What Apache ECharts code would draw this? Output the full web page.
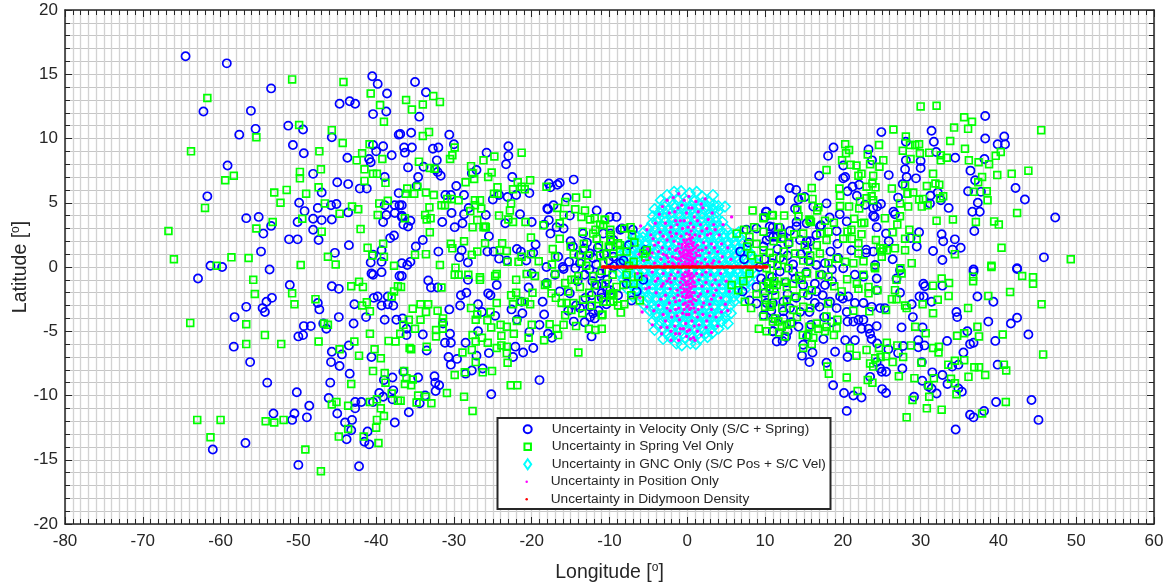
<!DOCTYPE html>
<html><head><meta charset="utf-8">
<style>html,body{margin:0;padding:0;background:#fff}#c{width:1173px;height:587px}</style>
<script src="https://cdn.jsdelivr.net/npm/echarts@6/dist/echarts.min.js"></script>
</head><body><div id="c"></div>
<script>
const legendNames=["Uncertainty in Velocity Only (S/C + Spring)","Uncertainty in Spring Vel Only","Uncertainty in GNC Only (S/C Pos + S/C Vel)","Uncertainty in Position Only","Uncertainty in Didymoon Density"];
const xLimits=[-80,60], yLimits=[-20,20];
const velocityOnly=[[-64.5,16.4],[-59.2,15.85],[-53.5,13.9],[-62.2,12.1],[-56.1,12.15],[-57.6,10.3],[-55.5,10.75],[-51.3,11],[-49.4,10.7],[-50.7,9.5],[-49.3,8.85],[-59.1,7.9],[-61.7,5.5],[-45.7,10.1],[-44.7,12.7],[-43.4,12.9],[-42.7,12.7],[-40.5,14.85],[-39.8,14.25],[-38.6,13.5],[-40.4,11.9],[-38.7,12.1],[-37.1,10.3],[-40.4,9.5],[-39.1,9.4],[-40,9],[-38,8.7],[-43.7,8.5],[-40.9,8.4],[-40.7,8.15],[-48.1,7.25],[-38.9,7],[-45,6.6],[-43.6,6.45],[-42.1,6.1],[-41.2,6.1],[-47,5.8],[-49.9,5],[-47.5,4.6],[-45.8,4.8],[-45.1,4.9],[-43.6,4.25],[-49.2,4.35],[-56.7,3.8],[-55.1,3.9],[-50.1,3.5],[-53.5,3.2],[-54.5,2.6],[-48.1,3.75],[-47,3.65],[-45.7,3.7],[-48.1,2.9],[-51.2,2.15],[-50.1,2.15],[-47.4,2.1],[-43.5,1.7],[-54.8,1.2],[-45.3,1.1],[-61.3,0.1],[-59.8,0],[-53.7,-0.2],[-38.9,4.8],[-38.7,4.05],[-37.6,4.8],[-37,4.8],[-37.6,4.2],[-36.7,3.9],[-39.1,3.5],[-38.2,2.25],[-37.7,2.45],[-39.3,1.3],[-40.4,0.95],[-40.7,0.35],[-39.3,0.4],[-37.1,5.75],
[-62.9,-0.9],[-51.1,-1.4],[-45.7,-1.5],[-44.8,-1.7],[-53.4,-2.4],[-54.1,-2.7],[-54.6,-3.2],[-54.3,-3.5],[-56.7,-3.1],[-58.2,-3.9],[-47.5,-2.8],[-47.3,-3.3],[-42.8,-2.9],[-44.8,-3.9],[-41.3,-3.9],[-38.9,-4.1],[-37.4,-4.1],[-42.9,-4.4],[-49.3,-4.6],[-48.4,-4.6],[-46.8,-4.4],[-46.4,-4.8],[-50,-5.4],[-49.4,-5.3],[-58.3,-6.2],[-56.2,-7.4],[-54,-9],[-43.5,-6.1],[-45.7,-6.6],[-44.4,-6.8],[-40.6,-7],[-45.8,-7.4],[-44.7,-7.7],[-43.4,-8.3],[-45.9,-9],[-50.2,-9.75],[-37.9,-8.6],[-39,-8.8],[-37.8,-9.6],[-39.6,-9.8],[-39.1,-10.1],[-40.4,-10.5],[-41.9,-10.5],[-42.7,-10.5],[-42.7,-11],[-46.1,-10.2],[-48.6,-10.8],[-50.5,-11.4],[-53.2,-11.4],[-50.8,-11.9],[-48.9,-11.7],[-45,-11.4],[-44,-12.1],[-43.1,-11.9],[-43.2,-12.7],[-43.8,-13.4],[-41.1,-12.8],[-41.5,-13.6],[-40.9,-13.8],[-37.6,-12.1],[-37.9,-10.3],[-56.8,-13.7],[-61,-14.2],[-50,-15.4],[-42.2,-15.5],[-40.3,-2.4],[-39.8,-2.3],[-38.5,-2.3],[-39.3,-3],[-38.5,-2.9],[-37.8,-3],[-40.6,-0.5],[-39.3,-0.4],[-40.4,-0.6],[-37,-0.7],
[-35.5,10.45],[-30.6,10.3],[-36.4,9.3],[-35.4,9.3],[-36.3,8.9],[-32.7,9.2],[-32,9.3],[-30,9.55],[-32.2,8.3],[-35.9,7.75],[-33.9,7.8],[-32.4,7.6],[-32.1,7.4],[-31.7,7.1],[-34.6,7],[-34.8,6.3],[-29.7,6.3],[-31.1,5.6],[-30.4,5.6],[-28.7,5.6],[-36.7,4.8],[-30.3,4.2],[-31.5,3.5],[-28.7,4.1],[-28.1,4.6],[-29.9,3.1],[-28.9,3.4],[-25.9,4.05],[-27.1,7.55],[-27.7,7.3],[-25.8,8.9],[-23,9.4],[-23,8.65],[-23.3,8],[-22.5,7],[-24.2,5.6],[-25,5.25],[-23.1,5.45],[-22,5.6],[-20.3,5.75],[-21.5,4.1],[-23.4,3.4],[-20,3.5],[-17.8,6.5],[-17.6,6.2],[-16.4,6.55],[-16.7,6.4],[-14.6,6.8],[-15.5,5.4],[-17.2,4.8],[-18,4.55],[-17.9,4.5],[-11.65,4.4],[-17.8,3.65],[-18.4,3.3],[-16.8,3.1],[-15.1,4],[-17.6,2.6],[-15.9,3],[-13.4,2.6],[-15,2],[-14.7,1.6],[-25.5,2.4],[-19.5,1.75],[-21.9,1.4],[-34.9,1.6],[-34,2.1],[-32,1.2],[-29,1.3],[-29.3,0.75],[-28.2,0.35],[-25.7,1.2],[-24.9,1.2],[-24.2,0.65],[-23.2,0.5],[-21.4,1.2],[-20.7,0.5],[-19.8,1.1],[-16.6,0.8],[-16,0],[-18.1,0],[-35.6,0.4],[-36,0.15],[-36.7,0.3],[-36.5,3.3],[-35.6,3.6],[-35.9,3.15],[-36.7,4],[-12.5,1.05],[-13.2,1.45],[-10,3.9],[-9.1,3.9],[-8.6,2.9],[-10.8,2.6],[-12.1,0.7],[-13.8,0.3],[-9.5,2.1],[-9.5,0.8],[-35,14.4],[-33.6,13.6],[-34.45,11.7],[-36.9,10.35],
[-33.3,-1.05],[-32.95,-1.6],[-32.1,-1.6],[-36.7,-0.7],[-28.2,-1],[-24.5,-1.4],[-28.4,-2],[-29.1,-2.2],[-25.6,-2.05],[-25.3,-2.2],[-29.2,-3],[-30.6,-3.3],[-26.9,-2.9],[-26.4,-3.5],[-24.7,-3.8],[-18.6,-2.7],[-18.4,-3.7],[-20.4,-1.6],[-21.3,-2.7],[-22.6,-3.3],[-21.2,-3.6],[-21.9,-4.1],[-19,-4.5],[-20.3,-5.05],[-17.9,-5.2],[-17.4,-5.5],[-31.4,-4.4],[-30.5,-5.2],[-34,-5.25],[-36.1,-5.3],[-26.9,-5],[-30.4,-5.9],[-31.15,-5.9],[-28.5,-5.9],[-33.5,-6.5],[-22.1,-6.2],[-19.8,-6.3],[-25.5,-6.7],[-27.1,-6.9],[-21.1,-6.65],[-22.4,-7],[-30.7,-7],[-29.6,-7.15],[-30.4,-7.6],[-26.3,-7.9],[-27.7,-8.05],[-28.5,-8.3],[-36.5,-8.15],[-32.5,-8.5],[-34.6,-8.6],[-32.4,-9],[-31.9,-9.2],[-32.35,-9.65],[-19,-8.8],[-25.2,-9.9],[-33.7,-10],[-34.4,-10.6],[-35.8,-11.3],[-12.3,-5.4],[-18.1,-1.25],[-16.4,-1.9],[-15.1,-2.05],[-13.8,-3.2],[-12.3,-2.2],[-11.65,-1.4],[-12.5,-3.1],[-12.5,-3.9],[-14.6,-4.25],[-15.9,-0.15],[-20,-0.5],[-17,-0.6],[-11,-2.05],[-9.9,-1.8],[-11.9,-4],[-11.2,-0.5],[-10.35,-0.35],[-36.6,-4],[-36.1,-4.8],[-9.4,0.05],[-9.9,1.6],[-8.6,0.3],[-8.2,0.5],[-11,-1.3],[-10.3,-1.8],[-8.9,-2.2],[-7.15,-2.6],[-5.4,1.3],[-5.65,-1],[-7,2.9],[-8.4,3],[-9.9,2.6],[-10.4,-2.9],[-11,-2.4],
[38.3,11.75],[31.4,10.6],[24.95,10.5],[40.75,10.15],[38.3,10],[39.9,9.55],[40.85,9.55],[28.1,9.75],[31.7,9.75],[18.8,9.3],[18.1,8.65],[23.3,9.15],[32,8.95],[23.75,8.3],[34.45,8.5],[38.2,8.4],[28.1,8.3],[30,8.25],[20.05,7.9],[28,7.6],[30,7.7],[36.4,7.5],[16.95,7.1],[20.05,6.9],[20.3,7],[25.9,7.15],[28.2,7],[29.4,6.9],[27.7,6.45],[37,6.75],[42.2,6.15],[13.15,6.15],[14,6],[15.1,5.45],[14.3,5.25],[11.9,5.15],[43.4,5.25],[36.1,5.9],[37.75,5.85],[31.25,5.55],[32.2,5.8],[27.1,5.4],[20.6,5.9],[21.25,6.25],[21.8,5.55],[22.1,6.4],[32.6,5.2],[31.2,4.95],[37.35,5],[33.6,4.6],[36.65,4.3],[37.6,4.3],[47.3,3.85],[17.9,4.95],[16.2,4.7],[10.1,4.3],[13.85,4.55],[24.9,4.9],[23.9,4.6],[24.4,4.7],[22.85,4.85],[26.5,4.3],[26.7,4.1],[24.1,3.9],[23.9,4],[19.6,4.1],[18.3,3.85],[20.5,3.55],[14.05,3.5],[14.05,3.15],[15.35,3.4],[17.2,3.25],[17.05,3.15],[24.35,3.1],[11.9,3.05],[11,3.1],[36.9,2.8],[29.8,2.7],[25.55,2.6],[32.7,2.55],[19.2,2.8],[34.4,2.15],[32.9,2],[35.15,1.5],[34.1,1.35],[31.6,1.25],[32.8,0.55],[29.5,1.6],[25.9,2],[28.7,2.25],[19.3,1.8],[15.8,2],[15.35,2],[14.5,2.1],[13,1.8],[11.05,2.35],[10.6,2.35],[23,1.35],[23,1.1],[23.9,1.2],[21.1,1.3],[26.4,0.6],[45.85,0.75],[42.4,-0.1],[36.8,-0.2],[24.15,0.15],[16.6,0.15],[19.4,0.7],[11.9,0.7],[9.8,1.6],[10.2,2.1],[10.2,4.3],[11.9,5.2],[7.6,2.9],[8.9,3],[10.6,3.15],[11.5,2.35],[10,3.9],[9.3,0],[8.9,-1.55],[8.9,-2.85],[8,-2.6],[11,-2.8],[11,-5],[11.5,-5.8],
[36.8,-0.35],[42.4,-0.15],[37.3,-2.3],[39.35,-2.7],[30.35,-1.3],[30.55,-1.5],[32.8,-1.45],[27.35,-2],[29.85,-2.3],[30.4,-2.3],[31.4,-2.7],[28.85,-2.9],[34.6,-3.5],[34.7,-3.9],[29,-3.9],[42.4,-3.95],[41.6,-4.4],[38.7,-4.25],[27.55,-4.7],[30.25,-4.7],[36,-5],[43.85,-5.25],[39.6,-5.75],[36.8,-5.9],[36.35,-6],[33.4,-5.75],[29.7,-5.7],[30.5,-6.1],[29.7,-6.25],[27.75,-6.15],[35.5,-6.65],[27.1,-6.7],[24.35,-4.6],[23.7,-5.6],[25.85,-6.4],[24.4,-5.95],[23.3,-4.8],[23.5,-5.2],[22.4,-4.8],[22,-4.1],[21.35,-4.25],[20.6,-4.25],[22.65,-4.1],[19,-6.6],[20.6,-7],[21.55,-5.7],[20.3,-5.7],[39.9,-7.6],[34.85,-7.6],[34.05,-7.75],[30.15,-7.4],[27.65,-7.9],[25,-8.15],[25.55,-8.15],[24.8,-7.9],[24.35,-7.4],[17.9,-7.45],[15.7,-7.4],[14.75,-6.9],[16.1,-6.65],[14.9,-6.05],[14.3,-4.65],[11,-5],[12.7,-5.45],[12.25,-5.75],[23.5,-8.55],[31.5,-8.2],[32.8,-8.4],[30.2,-8.85],[33.45,-9.1],[31,-9.3],[31.4,-9.45],[32.05,-9.85],[35.3,-9.7],[34.85,-9.45],[29.15,-10.1],[18.75,-9.2],[20.15,-9.8],[21.35,-10],[22.4,-10.15],[25.05,-9.5],[25.55,-9.8],[39.7,-10.5],[44.25,-10.35],[38.15,-11.2],[36.35,-11.5],[36.8,-11.7],[45.15,-11.9],[20.5,-11.2],[34.5,-12.65],[18.35,-2.7],[19.2,-3.2],[19.65,-2.3],[20.7,-2.3],[20,-2.45],[16.6,-1.9],[14.9,-1.4],[11.9,-0.35],[13.6,-0.35],[16.4,-1.3],[17.7,-1.4],[20.05,-0.1],[21.55,-0.6],[24.35,-0.9],[24.35,-1.8],[24.8,-3.2],[25.4,-3.2],[23.7,-3.1],[22.65,-2.8],[21.55,-2.8],[20.5,-3.5],[17,-3.1],[16.4,-2.8],[14.5,-3.5],[12.35,-2.7],[12.35,-3.45],[12.35,-4],[11.05,-4],[9.8,-3.75],[10.2,-2.8],[10.2,-1.15],[26.9,-0.9],[27.35,-0.25],[22.65,-0.75],
[-13.2,-0.6],[-14.1,-1.1],[-12.6,-0.2],[-13.9,0.9],[-15.2,0.4],[-14.4,-0.1],[-12.2,-1.1],[-11.7,0.2],[-10.7,1],[-10.1,0.5],[-11.5,1.5],[-12.9,1.9],[-10.3,-1],[-12.1,-3.6],[-13.1,-2.4],[-14.3,-3],[-15.3,-3.4],[-13.2,-4.3],[-11.4,-3.4],[-7.5,1.7],[-6.5,-1.9],[-7.8,-1.3],
[9.9,0.6],[10.9,0.3],[11.6,1.4],[12.9,0.9],[13.6,0.2],[14.6,1],[15.6,0.5],[17.7,0.3],[18.4,1.2],[12.3,2.3],[13.2,2.8],[15.4,1.3],[16.6,2.5],[10.9,-0.8],[12.7,-1.2],[13.9,-0.9],[15.3,-0.4],[17.3,-0.6],[18.6,-1.1],[9.5,-0.9],[10,-2],[11.1,-1.8],[12.9,-2.1],[14,-2.4],[15.5,-2.2],[17.4,-2.2],[18.6,-0.2],[10.8,-3.4],[13.2,-3.2],[15.7,-3.5],[13.4,-4.3],[15.9,-4.5],[17.6,-3.9],[18.6,-4.3],[12.9,-5],[15.4,-5.4],[17.5,-5.6],[7.1,-1.9],[6.8,1.2],[7.9,1.9],[7.3,0.6]];
const springVelOnly=[[-50.8,14.6],[-44.2,14.4],[-40.7,13.5],[-61.7,13.15],[-39.5,12.6],[-39,11.3],[-49.9,11.05],[-45.7,10.65],[-55.4,10.1],[-44.3,9.65],[-40.85,9.55],[-47.3,9],[-63.8,9],[-41.8,8.85],[-42.5,8.3],[-39.2,8.4],[-47.1,7.6],[-41.5,7.6],[-49.8,7.4],[-49.8,6.9],[-58.3,7.1],[-59.4,6.75],[-40.4,7.25],[-39.9,7.25],[-41.5,6.7],[-38.8,6.55],[-47.4,6.2],[-51.5,6],[-53.1,5.8],[-49,5.7],[-52.3,5],[-46.6,4.95],[-39.6,4.95],[-38.5,5.15],[-43.1,4.7],[-42.3,4.5],[-44.7,4.15],[-39.8,4.05],[-62,4.6],[-49.5,3.75],[-53.3,3.5],[-55.4,3],[-42,2.95],[-47,2.75],[-66.7,2.8],[-39.1,1.8],[-41.1,1.5],[-39,0.8],[-40.5,0.9],[-46.2,0.8],[-66,0.6],[-58.6,0.75],[-56.4,0.7],[-45.2,0.2],[-49.7,0.15],[-37.7,0.1],[-60.5,0.1],
[-55.8,-1],[-55.6,-2.1],[-50.8,-2.05],[-50.5,-2.9],[-47.8,-2.5],[-63.9,-4.35],[-56.7,-4.45],[-54.3,-5.3],[-56.7,-6],[-52.2,-6],[-47.4,-5.8],[-46.7,-4.4],[-46.2,-4.5],[-43.2,-1.5],[-42.2,-1.15],[-41.7,-1.55],[-41.2,-2.75],[-41.8,-3],[-40.8,-3.45],[-37.7,-1.9],[-38,-2.3],[-37.2,-1.5],[-40.8,-5.2],[-42.8,-5.8],[-38.4,-5.75],[-37.5,-5.8],[-36.9,-5.2],[-40.2,-6.4],[-44.7,-6.4],[-42.2,-6.9],[-39.4,-7.1],[-40.4,-8.1],[-38.9,-8.25],[-38.8,-9],[-43.2,-9.1],[-38,-9.85],[-39.9,-10.3],[-40.8,-10.5],[-37.2,-10.4],[-45.1,-10.5],[-45.7,-10.7],[-43.6,-10.8],[-39.4,-11],[-39,-11.6],[-39.9,-11.9],[-40,-12.5],[-43.6,-12.6],[-44.8,-13.2],[-41.6,-13.2],[-39.7,-13.7],[-63,-11.9],[-60,-11.9],[-54.2,-12],[-53.1,-12.1],[-51.9,-11.9],[-61.3,-13.25],[-49.1,-14.2],[-47.1,-15.9],
[-34,10.2],[-33.2,10.5],[-29.9,9.3],[-30.2,8.7],[-30.5,8.4],[-34.5,8.2],[-33.1,7.7],[-32.5,7.65],[-27.8,7.85],[-27.6,7.3],[-27.4,6.85],[-28.5,6.6],[-26.2,8.3],[-24.8,8.6],[-21.3,8.9],[-25.15,7.35],[-25.6,7],[-20.2,6.75],[-21.8,6.6],[-24.4,6.2],[-24.4,5.7],[-24.85,5.7],[-22.4,6.05],[-21.3,6.25],[-20.9,6.05],[-18.1,6.25],[-36,6.1],[-34.7,6.25],[-36.2,5.7],[-35.1,5.7],[-33.6,5.8],[-32.6,5.6],[-30.85,5.3],[-30.3,5.3],[-29.4,5.2],[-31.6,4.8],[-31.15,4.8],[-27.3,5.2],[-26.65,5.2],[-27.3,4.8],[-26.5,4.55],[-27.9,4.35],[-33.15,4.65],[-33.7,4.05],[-36.3,3.8],[-33.5,3.7],[-33,3.8],[-27,3.65],[-24.2,4],[-22.65,4.95],[-22.8,4.4],[-23,3.7],[-22.4,3.5],[-20.8,3.5],[-27.6,3.1],[-26.2,3.1],[-25.9,3.1],[-26,3.15],[-18.5,3.25],[-16.7,4.6],[-15.7,5.05],[-14.3,5.4],[-12.9,5.7],[-14.4,4.5],[-13.15,4.4],[-15.9,4.05],[-13.6,3.9],[-12.5,3.7],[-11.9,3.8],[-10.6,3.7],[-16.4,3.4],[-13.45,2.75],[-12.1,2.6],[-9.9,2.9],[-11.65,2.2],[-11.35,1.7],[-9.9,2.2],[-11.2,3.3],[-33.1,2.7],[-20.1,2.3],[-16.4,2.2],[-28.7,2],[-26,1.85],[-23.8,1.85],[-30.4,1.8],[-30.2,1.45],[-15,1.6],[-17.3,1.4],[-24.1,1.3],[-23.2,1.25],[-33.6,1],[-35,0.95],[-27.7,0.95],[-27,1.2],[-20.1,1],[-21.3,0.8],[-21.7,0.4],[-23.1,0.4],[-31.8,0.15],[-19.1,0.45],[-17,0.8],[-17.4,0.2],[-13.6,0.4],[-13.4,1.3],[-10.4,1],[-9.5,1.05],[-8.9,1.85],[-29.8,-0.05],[-36.15,13],[-32.65,13.3],[-31.8,12.85],[-34,12.65],[-35.4,12.25],
[-29.9,-0.6],[-29.4,-0.6],[-28.15,-0.6],[-26.65,-0.8],[-26.65,-1],[-24.5,-0.55],[-24.7,-0.7],[-22,-1],[-20.65,-0.55],[-19.6,-0.7],[-18.3,-1.4],[-18,-1.3],[-31.6,-1.6],[-36.8,-1.55],[-22,-2],[-22.65,-2.2],[-19.9,-2],[-24.5,-2.8],[-21.5,-2.7],[-20.9,-2.7],[-20.2,-2.9],[-22.4,-2.9],[-27.8,-3.2],[-25.3,-3.5],[-34.3,-2.9],[-33.3,-2.9],[-35.3,-3.25],[-33.6,-3.5],[-32.1,-3.4],[-27,-3.7],[-27.2,-4.1],[-31.4,-4],[-25.7,-4.15],[-34.3,-4.1],[-35.8,-4.1],[-24,-4.5],[-23.2,-4.65],[-21.9,-4.2],[-25.2,-4.7],[-31.45,-4.3],[-36.5,-4.5],[-35,-4.8],[-32.3,-4.9],[-31.45,-4.8],[-32.3,-5.4],[-22.3,-5.2],[-23.9,-5.35],[-20.4,-5.5],[-18.4,-5.7],[-27.6,-5.3],[-26.4,-5.5],[-27.2,-5.8],[-25.65,-5.9],[-35.7,-6.3],[-35.5,-6.4],[-33.5,-6.2],[-24.5,-6.3],[-23.2,-6.2],[-23.9,-6.1],[-23.2,-6.7],[-28.9,-6.65],[-27.7,-6.45],[-14,-6.65],[-27.2,-7.4],[-23.1,-7.45],[-29.9,-8.4],[-28.6,-8.2],[-26.3,-8.2],[-25.1,-8.1],[-36.4,-8.1],[-35.3,-8.75],[-36.1,-8.65],[-36.3,-9.1],[-35.5,-9.2],[-22.7,-9.2],[-21.85,-9.2],[-30.9,-9.8],[-28.7,-10.1],[-34.6,-10],[-33.6,-10.1],[-32.9,-10.6],[-34.8,-10.55],[-27.6,-11.2],[-36.85,-10.4],[-20,-4.5],[-17.7,-4.45],[-16.8,-4.8],[-15.9,-4.5],[-16.6,-5.3],[-14.3,-4.6],[-15.7,-3.75],[-14.9,-3.35],[-14.65,-2.8],[-16.15,-2.8],[-15.5,-2.8],[-16.9,-2.4],[-17.45,-2.05],[-13.4,-2.55],[-10.9,-3.7],[-12.65,-4.8],[-11.8,-4.9],[-10.8,-2.7],[-9.5,-2.05],[-9.9,-2.7],[-9.5,-2.7],[-14.9,-1],[-14.45,-1],[-14,-0.7],[-11.9,-1.4],[-13.8,-1.55],[-15.3,-1.9],[-17,-0.55],[-12.3,-3],[-15.7,-1.25],
[-10.6,3.65],[-10.8,3.25],[-9.9,2.5],[-8.1,3],[-7.1,2.5],[-9.9,2],[-8.65,1.7],[-7.8,1.2],[-8.65,1.2],[-6.9,0.4],[-5.65,1.05],[-5.2,1.3],[-9.6,-0.6],[-8.2,-1.4],[-9.7,-2.2],[-9.9,-2.1],[-8.55,-3.55],[-11,-3.75],[-6.1,-2.6],[-6.3,-0.75],[-7.8,-0.6],[-9.1,-1.55],[-10.8,0.3],[-6.9,-1.3],[-5.4,0.8],
[30,12.5],[32.05,12.55],[35.6,11.65],[36.6,11.3],[34.3,10.85],[36.1,10.75],[45.5,10.65],[26.5,10.7],[28.1,10.15],[24.65,9.5],[20.3,9.55],[20.8,9.1],[20.4,8.85],[28.65,9.5],[29.8,9.55],[29.3,9.5],[33.8,9.8],[27.7,9.05],[23.2,8.75],[29.9,8.85],[31.1,8.9],[35.7,9.2],[32.6,8.7],[33.35,8.5],[32.6,8.3],[40.3,8.95],[39.65,8.65],[28.7,8.4],[36.2,8.3],[37.45,8.15],[38.8,8],[25.2,8.3],[19.9,8.3],[21.75,7.9],[21,7.95],[23.5,8],[24.7,7.8],[17.9,7.55],[43.85,7.5],[41.7,7.25],[39.85,7.15],[31.6,7.25],[37.9,7],[22.4,7.25],[22,7.1],[23.9,7.1],[37.4,6.6],[31.9,6.5],[32.4,6.4],[30.8,6.3],[28,6.35],[23.8,6.5],[24.2,6.2],[23.05,6.25],[26.3,6.1],[19.55,6.1],[16,6.15],[29.05,5.8],[28.3,5.7],[38.5,5.9],[36.85,5.85],[38.6,5.2],[19.65,5.55],[23.7,5.5],[23.9,5.2],[23.05,5.35],[22.2,5.1],[14.7,5.4],[16.1,5.3],[30.3,5.3],[29.8,5.25],[32.9,5.5],[32.5,5.35],[30.15,4.7],[28.4,4.7],[27.35,4.95],[30.9,4.8],[19.65,4.75],[20.8,4.7],[22.1,4.55],[16.85,4.65],[16.7,4.4],[14.15,4.45],[14.3,3.95],[12.45,4],[11,4],[9.8,3.85],[27.35,3.95],[25.4,3.8],[21.45,3.75],[15.8,3.6],[15.9,3.5],[15.7,3.7],[17.7,3.6],[18.85,3.45],[22.75,3.45],[22.4,3.4],[32.05,3.6],[34.15,3.7],[39.45,3.55],[42.4,4.2],[37.1,3.5],[40.05,3.3],[27,3.3],[28.55,2.9],[26.4,2.7],[22.4,2.55],[21.1,2.9],[20.6,2.75],[20.05,2.2],[21.15,2.2],[18.15,2.75],[17.9,2.1],[14.9,2.6],[13.75,2.55],[12.15,2.6],[12.15,2.2],[9.8,2.75],[24.25,2.1],[28,2.2],[29.5,2.2],[22,1.85],[16.65,1.7],[40.4,1.5],[28,1.3],[24.8,1.45],[25.2,1.45],[25.65,1.3],[25,1.2],[26.7,1.45],[17.05,1.05],[15.8,0.9],[13.85,1.05],[12.35,0.55],[34.4,1],[22,1.05],[25,0.8],[19.2,0.65],[15.8,0.4],[22.65,0.45],[20.3,0.4],[18.15,0.3],[28.85,0.3],[39.1,0.1],[24.1,0],[27.4,-0.1],[21.35,0.3],[14.9,0.5],[8.4,4.4],[10.9,4.05],[9.8,3.8],[6.35,2.6],[8,2.35],[8.9,1.8],[9.8,1.3],[7.7,1.6],[11.05,0.7],[5.7,-1.4],[6.55,-1.8],[7.2,-1.1],[8,-0.5],[9.8,-1.5],[10.6,-0.7],[11.5,-1.4],[9.8,-3.85],[11,-4.25],[10.6,-3.1],[49.3,0.6],
[39.1,0],[43.05,-0.7],[44.45,-0.8],[44.45,-1.3],[41.5,-1.95],[45.55,-2.9],[36.75,-0.75],[36.75,-1.1],[32.7,-0.9],[33.65,-1.25],[31.6,-1.45],[33.6,-2.25],[32.2,-2.55],[30.25,-2.9],[38.7,-2.25],[36.1,-3.2],[31.6,-3.6],[28,-3],[28.2,-3.2],[26.3,-2.5],[26.9,-2.5],[26.7,-1.8],[26.9,-1],[27.55,-0.5],[29.3,-4.65],[37.3,-4.65],[40.55,-5.25],[37.5,-5.4],[34.7,-5.35],[35.6,-5.15],[30.65,-5.15],[45.75,-6.8],[25.65,-5.9],[27,-6.1],[28.75,-6.1],[31.6,-6.3],[32.35,-6.2],[32.3,-6.65],[24.65,-6.3],[23.05,-6.45],[21.75,-6.9],[20.9,-6.3],[25.55,-6.95],[24.85,-7],[27.75,-7],[24.15,-7.1],[23.5,-7.5],[23.9,-7.75],[26.4,-7.4],[30.1,-7.45],[35.6,-7.25],[34.4,-7.3],[33.55,-7.6],[36.9,-7.8],[37.5,-7.8],[40.7,-7.6],[41,-8.05],[38.3,-8.4],[36.15,-8.55],[27.2,-8.5],[29.2,-8.65],[31.7,-8.65],[33.9,-8.7],[34.4,-9.05],[31,-9.2],[18.2,-8.3],[18,-7.75],[20.5,-8.6],[23.2,-8.8],[23.8,-9],[21.9,-9.65],[34.6,-9.9],[31.1,-10.1],[28.95,-10.35],[30.8,-11],[32.7,-11.1],[40.95,-10.5],[37.9,-11.4],[28.2,-11.7],[14.9,-6.3],[16,-6],[16.2,-5.5],[14.85,-5.3],[15.55,-5.3],[15.7,-4.65],[16.65,-4.4],[16.85,-4.8],[17.7,-5],[17.9,-4.65],[18.85,-5.3],[19.3,-4.1],[19.2,-4.75],[17.9,-3.85],[14.9,-3.1],[15.8,-3.2],[18.1,-2.85],[21.35,-3.4],[23.4,-3.45],[25.55,-3.35],[19.85,-1.9],[18.9,-1.5],[18.15,-0.75],[17,-0.6],[20.55,-0.95],[21.8,-1.3],[22,-1.7],[23.3,-1.55],[23.3,-2.05],[24.45,-1.8],[24.15,-0.1],[22.65,-0.6],[14.4,-0.7],[14.7,-1],[15.35,-0.5],[16,-1.8],[13.85,-2.3],[14.9,-2.05],[13,-0.1],[12.55,-1.15],[12.8,-1.55],[10.4,-1.3],[11.05,-1.4],[10.6,-1.65],[11.2,-1.1],[10,-3.1],[10.85,-2.95],[12.8,-2.55],[11.3,-4],[11.7,-4.25],[12.15,-4.65],[12.8,-4.5],[12.55,-5.4],[13.65,-3.35],
[-13,0.1],[-12.1,-0.7],[-11,-0.3],[-12.7,0.9],[-11.2,0.9],[-10.1,1.6],[-14.6,1],[-11.8,2.9],[-13.3,1.8],[-10.5,-1.3],[-11.4,-2.5],[-12.6,-2],[-13.5,-3.6],[-11,-4.8],[-8.1,-2.9],[-7.2,-2.2],[-8.9,-3],[-7.5,0.1],[-6.8,1.9],[-7.3,3.1],
[10.2,-0.1],[11.6,0.1],[12.4,1.2],[13.1,1.9],[10.6,1.1],[11.1,2],[11.7,3.1],[9.2,0.6],[8.2,0.9],[7.3,2.9],[8.6,3.1],[11.3,-2.2],[12.2,-3.2],[13.3,-4.4],[14.1,-3.9],[10,-2.4],[8.9,-2.1],[7.4,-2.7],[8.2,-3.2],[9.2,-4.8],[10.2,-5],[11.8,-5.1],[13.6,-1.3],[15.1,1.7],[17.1,2.6]];
const gncOnly=[[-1.7,5.85],[-0.8,5.9],[0.3,5.75],[1.2,5.85],[-2.6,5.6],[1.9,5.5],[3.3,5.6],[-3.4,5.2],[-2.2,5.1],[-1.2,5.2],[-0.1,5.15],[0.9,5.1],[2,5],[2.8,5.05],[4,4.75],[-4.2,4.5],[-3.3,4.55],[-2.5,4.4],[-1.6,4.6],[-0.6,4.5],[0.4,4.45],[1.4,4.5],[2.4,4.4],[3.3,4.5],[4.85,4.7],[-4.4,3.95],[-3.7,3.85],[-2.9,3.8],[-2,3.9],[-1,3.85],[0,3.8],[1,3.9],[1.9,3.8],[2.8,3.85],[3.7,3.9],[4.5,3.5],[-4.5,3.4],[-3.3,3.2],[-2.4,3.2],[-1.5,3.25],[-0.5,3.15],[0.5,3.2],[1.4,3.15],[2.3,3.25],[3.2,3.2],[4,3.2],[-5.6,2.7],[-4.6,2.6],[-3.8,2.55],[-2.9,2.5],[-1.9,2.6],[-1,2.55],[0,2.5],[0.9,2.6],[1.9,2.5],[2.8,2.6],[3.7,2.5],[4.7,2.6],[5.6,2.5],[6.6,2.7],[-7,2.3],[-6.2,2.1],[-5.3,2],[-4.3,2],[-3.4,1.95],[-2.4,1.9],[-1.4,2],[-0.5,1.9],[0.5,1.95],[1.4,1.9],[2.4,2],[3.3,1.9],[4.2,1.95],[5.2,2],[6.1,2],[7,2.1],[-7.8,1.6],[-6.9,1.5],[-5.9,1.4],[-4.8,1.4],[-3.9,1.35],[-2.9,1.3],[-2,1.4],[-1,1.3],[0,1.3],[1,1.4],[1.9,1.3],[2.9,1.35],[3.8,1.3],[4.7,1.4],[5.7,1.4],[6.6,1.45],[7.6,1.5],[-8.6,0.9],[-7.4,0.85],[-6.4,0.8],[-5.4,0.75],[-4.4,0.8],[-3.4,0.7],[-2.4,0.75],[-1.4,0.7],[-0.5,0.75],[0.5,0.7],[1.4,0.8],[2.4,0.7],[3.4,0.75],[4.3,0.7],[5.3,0.8],[6.2,0.75],[7.2,0.9],[8.3,0.9],[-9,0.25],[-8,0.2],[-7,0.15],[-6,0.2],[-5,0.1],[-4,0.15],[-3,0.1],[-2,0.2],[-1,0.1],[0,0.15],[1,0.1],[2,0.2],[3,0.1],[4,0.15],[5,0.1],[6,0.2],[7,0.15],[8,0.2],[8.9,0.3],[-8.8,-0.4],[-7.6,-0.4],[-6.6,-0.5],[-5.6,-0.45],[-4.5,-0.4],[-3.5,-0.5],[-2.5,-0.4],[-1.5,-0.5],[-0.5,-0.45],[0.5,-0.4],[1.5,-0.5],[2.5,-0.45],[3.5,-0.4],[4.5,-0.5],[5.5,-0.4],[6.5,-0.5],[7.5,-0.4],[8.6,-0.45],[-8.2,-1],[-7,-1.1],[-6,-1.05],[-5,-1],[-4,-1.1],[-3,-1.05],[-2,-1],[-1,-1.1],[0,-1.05],[1,-1],[2,-1.1],[3,-1.05],[4,-1],[5,-1.1],[6,-1.05],[7,-1],[8,-1.1],[-7.7,-1.7],[-6.5,-1.7],[-5.5,-1.65],[-4.5,-1.7],[-3.5,-1.7],[-2.5,-1.65],[-1.5,-1.7],[-0.5,-1.7],[0.5,-1.65],[1.5,-1.7],[2.5,-1.7],[3.5,-1.65],[4.5,-1.7],[5.5,-1.7],[6.5,-1.65],[7.4,-1.75],[-7,-2.3],[-6,-2.3],[-5,-2.3],[-4,-2.35],[-3,-2.3],[-2,-2.3],[-1,-2.35],[0,-2.3],[1,-2.3],[2,-2.35],[3,-2.3],[4,-2.3],[5,-2.35],[6,-2.3],[6.8,-2.4],[-5.6,-2.9],[-4.5,-3],[-3.5,-2.95],[-2.5,-2.95],[-1.5,-3],[-0.5,-2.95],[0.5,-2.95],[1.5,-3],[2.5,-2.95],[3.5,-2.95],[4.5,-3],[5.5,-3],[-4.8,-3.4],[-4,-3.6],[-3,-3.6],[-2,-3.55],[-1,-3.6],[0,-3.55],[1,-3.6],[2,-3.6],[3,-3.55],[4,-3.6],[5,-3.5],[5.6,-3.6],[-4.4,-4.2],[-3.5,-4.2],[-2.5,-4.2],[-1.5,-4.25],[-0.5,-4.2],[0.5,-4.2],[1.5,-4.25],[2.5,-4.2],[3.5,-4.2],[4.4,-4.25],[5.2,-4.4],[-4.2,-4.9],[-3.1,-4.85],[-2,-4.85],[-1,-4.85],[0,-4.9],[1,-4.85],[2,-4.85],[3,-4.85],[4,-4.8],[-3.1,-5.6],[-2.2,-5.5],[-1.3,-5.55],[-0.3,-5.5],[0.7,-5.5],[1.6,-5.6],[2.6,-5.45],[-1.4,-5.95],[-0.7,-6.1],[0.4,-5.95],[1.1,-6],
[-2.9,4.95],[-1.7,4.9],[-0.6,4.85],[0.5,4.8],[1.5,4.85],[2.6,4.75],[3.4,4.85],[-3.6,4.25],[-2.9,4.2],[-2,4.25],[-1.1,4.15],[-0.1,4.2],[0.9,4.25],[1.9,4.15],[2.9,4.2],[3.9,4.3],[-3.9,3.5],[-2.85,3.5],[-1.9,3.55],[-1,3.5],[0,3.5],[1,3.55],[1.9,3.5],[2.8,3.55],[3.7,3.5],[-5,3],[-4.1,2.9],[-3.3,2.85],[-2.4,2.85],[-1.4,2.9],[-0.5,2.85],[0.5,2.9],[1.4,2.85],[2.4,2.95],[3.2,2.85],[4.2,2.85],[5,2.95],[-6.6,2.4],[-5.7,2.3],[-4.8,2.3],[-3.8,2.25],[-2.9,2.2],[-1.9,2.25],[-1,2.2],[0,2.2],[1,2.25],[1.9,2.2],[2.9,2.3],[3.8,2.2],[4.7,2.25],[5.7,2.3],[6.6,2.35],[-7.3,1.85],[-6.4,1.75],[-5.4,1.7],[-4.4,1.7],[-3.4,1.65],[-2.4,1.6],[-1.5,1.65],[-0.5,1.6],[0.5,1.6],[1.5,1.65],[2.4,1.65],[3.4,1.6],[4.3,1.65],[5.2,1.7],[6.2,1.7],[7.1,1.8],[-8.1,1.2],[-7.2,1.15],[-6.3,1.1],[-5.3,1.05],[-4.3,1.1],[-3.3,1.0],[-2.4,1.05],[-1.5,1],[-0.5,1.05],[0.5,1],[1.5,1.1],[2.4,1.05],[3.3,1],[4.3,1.05],[5.2,1.1],[6.1,1.1],[7,1.2],[7.9,1.2],[-8.4,0.55],[-7.5,0.5],[-6.5,0.45],[-5.5,0.45],[-4.5,0.45],[-3.5,0.4],[-2.5,0.45],[-1.5,0.4],[-0.5,0.4],[0.5,0.4],[1.5,0.45],[2.5,0.4],[3.5,0.45],[4.5,0.4],[5.5,0.45],[6.5,0.45],[7.5,0.55],[8.4,0.6],[-8.4,-0.1],[-7.5,-0.15],[-6.5,-0.15],[-5.5,-0.15],[-4.5,-0.1],[-3.5,-0.2],[-2.5,-0.1],[-1.5,-0.2],[-0.5,-0.1],[0.5,-0.15],[1.5,-0.2],[2.5,-0.1],[3.5,-0.15],[4.5,-0.2],[5.5,-0.1],[6.5,-0.15],[7.5,-0.1],[8.4,-0.15],[-7.9,-0.75],[-7,-0.75],[-6,-0.75],[-5,-0.7],[-4,-0.8],[-3,-0.75],[-2,-0.7],[-1,-0.75],[0,-0.75],[1,-0.7],[2,-0.75],[3,-0.75],[4,-0.7],[5,-0.75],[6,-0.75],[7,-0.7],[7.9,-0.8],[-7.3,-1.35],[-6.5,-1.35],[-5.5,-1.35],[-4.5,-1.35],[-3.5,-1.4],[-2.5,-1.35],[-1.5,-1.35],[-0.5,-1.4],[0.5,-1.35],[1.5,-1.35],[2.5,-1.4],[3.5,-1.35],[4.5,-1.35],[5.5,-1.4],[6.5,-1.35],[7.4,-1.4],[-6.5,-2],[-5.5,-2],[-4.5,-2],[-3.5,-2],[-2.5,-2],[-1.5,-2],[-0.5,-2],[0.5,-2],[1.5,-2],[2.5,-2],[3.5,-2],[4.5,-2],[5.5,-2],[6.4,-2],[-5.2,-2.65],[-4,-2.65],[-3,-2.6],[-2,-2.65],[-1,-2.6],[0,-2.65],[1,-2.6],[2,-2.65],[3,-2.6],[4,-2.65],[5,-2.65],[6,-2.7],[-4.3,-3.3],[-3.5,-3.3],[-2.5,-3.25],[-1.5,-3.3],[-0.5,-3.25],[0.5,-3.3],[1.5,-3.25],[2.5,-3.3],[3.5,-3.25],[4.5,-3.3],[-3.9,-3.9],[-3,-3.9],[-2,-3.9],[-1,-3.9],[0,-3.9],[1,-3.9],[2,-3.9],[3,-3.9],[4,-3.9],[4.9,-3.95],[-3.7,-4.55],[-2.6,-4.55],[-1.5,-4.55],[-0.5,-4.55],[0.5,-4.55],[1.5,-4.55],[2.5,-4.55],[3.5,-4.55],[-2.6,-5.2],[-1.6,-5.2],[-0.6,-5.2],[0.4,-5.2],[1.4,-5.2],[2.4,-5.15],[3.2,-5.15]];
const positionOnly=[[-6,3.2],[5.7,3.9],[-5.2,2.9],[-4.7,2.5],[-4.1,3.4],[-3.6,4.1],[-3.2,4.7],[-2.6,5.2],[-2.1,3.1],[-1.8,5.4],[-1.6,4.3],[-1.1,5.7],[-0.9,3.6],[-0.7,4.8],[-0.4,5.2],[-0.1,4.2],[0.2,5.5],[0.4,3.4],[0.6,4.6],[0.9,3.9],[1.1,5.1],[1.4,4.3],[1.7,3.3],[2,4.6],[2.3,5.3],[2.7,3.7],[3.2,4.2],[3.6,2.9],[4.1,2.5],[4.6,3.3],[-3.1,2.4],[-2.6,2.1],[-2.2,2.7],[-1.7,2],[-1.4,2.6],[-1.1,1.8],[-0.8,2.4],[-0.6,3],[-0.3,1.9],[-0.1,2.6],[0.1,3.1],[0.3,2.2],[0.5,2.8],[0.8,1.9],[1,2.5],[1.3,1.7],[1.6,2.4],[2.1,1.9],[2.6,2.5],[3.1,1.8],[-5.1,1.4],[-4.2,1.7],[-3.7,1.2],[-3.2,1.5],[-2.7,0.9],[-2.3,1.4],[-1.9,0.8],[-1.5,1.3],[-1.3,0.6],[-1,1.2],[-0.8,0.5],[-0.7,1.5],[-0.5,0.9],[-0.4,1.3],[-0.3,0.4],[-0.2,1],[-0.1,1.7],[0,0.6],[0.05,1.25],[0.15,0.3],[0.2,1.55],[0.3,0.85],[0.35,1.3],[0.45,0.5],[0.5,1.8],[0.6,1],[0.7,0.35],[0.8,1.4],[0.95,0.7],[1.1,1.1],[1.3,0.4],[1.6,0.9],[1.9,1.3],[2.3,0.6],[2.8,1.1],[3.4,0.5],[3.9,1.2],[4.5,0.8],[5.2,1.5],[-5.6,0.5],[-4.8,0.7],[-4.2,0.3],[-3.4,0.6],[-2.9,0.2],[-2.4,0.4],[-1.7,0.2],[-1.1,0.25],[-0.6,0.2],[-0.2,0.2],[0.25,0.15],[0.6,0.2],[1.05,0.2],[1.8,0.3],[2.6,0.2],[3.2,0.3],[4.1,0.4],[-6.4,-0.5],[-5.3,-0.7],[-4.5,-0.4],[-3.8,-0.9],[-3.1,-0.5],[-2.6,-1.1],[-2.1,-0.6],[-1.6,-0.9],[-1.2,-0.4],[-0.9,-1.2],[-0.6,-0.6],[-0.4,-1],[-0.25,-0.4],[-0.1,-1.4],[0,-0.7],[0.1,-1.1],[0.2,-0.3],[0.3,-1.6],[0.35,-0.9],[0.45,-1.3],[0.55,-0.5],[0.7,-1.1],[0.85,-0.7],[1,-1.5],[1.2,-0.5],[1.5,-1],[1.9,-0.6],[2.4,-1.2],[3,-0.6],[3.6,-1],[4.3,-0.5],[5,-1.1],[-4.9,-1.6],[-4,-2],[-3.3,-1.5],[-2.8,-2.2],[-2.2,-1.7],[-1.7,-2.4],[-1.3,-1.8],[-1,-2.6],[-0.7,-2],[-0.5,-2.9],[-0.35,-1.9],[-0.2,-2.4],[-0.05,-3.1],[0.05,-2],[0.2,-2.7],[0.3,-1.9],[0.45,-3.2],[0.55,-2.3],[0.7,-2.9],[0.9,-2],[1.1,-2.6],[1.4,-3.3],[1.7,-2.1],[2.1,-2.8],[2.6,-1.9],[3.1,-2.5],[3.7,-1.8],[4.3,-2.4],[4.9,-2.9],[-6.1,-2.4],[-5.2,-3.1],[-5.8,-3.5],[-4.3,-3.4],[-3.7,-3],[-3.1,-3.7],[-2.6,-3.2],[-2,-3.9],[-1.5,-3.3],[-1,-4.1],[-0.6,-3.6],[-0.2,-4.4],[0.2,-3.7],[0.6,-4.2],[1,-3.5],[1.5,-4.5],[2,-3.7],[2.5,-4.2],[3.1,-3.3],[3.7,-3.9],[4.4,-3.5],[5.2,-3.4],[-4.5,-4.5],[-3.4,-4.7],[-2.8,-4.2],[-2.1,-5],[-1.6,-4.6],[-1,-5.2],[-0.5,-4.8],[-0.1,-5.4],[0.3,-4.9],[0.8,-5.5],[1.3,-5],[1.8,-5.3],[2.4,-4.7],[3.1,-5.1],[3.9,-4.6],[-3.3,-5.2],[-2.1,-5.7],[-1.1,-5.7],
[-0.75,0.8],[-0.55,1.15],[-0.35,0.7],[-0.15,1.35],[-0.05,0.85],[0.1,1.05],[0.25,0.55],[0.4,1.1],[0.55,0.75],[0.65,1.3],[0.75,0.6],[-0.65,1.75],[-0.45,2.1],[-0.25,1.6],[-0.05,2.1],[0.15,1.8],[0.3,2.5],[0.45,2.05],[0.65,2.3],[0.7,1.65],[-0.9,1.05],[-1.2,1.45],[-1.05,0.65],[-1.5,0.7],[1.05,1.5],[1.25,0.9],[1.45,1.3],[-0.7,-0.9],[-0.55,-1.4],[-0.35,-0.75],[-0.2,-1.2],[-0.05,-1.75],[0.1,-0.5],[0.2,-1.35],[0.3,-0.65],[0.45,-1.65],[0.6,-0.85],[0.7,-1.5],[0.9,-1.2],[-0.85,-1.6],[-0.6,-2.3],[-0.45,-1.7],[-0.25,-2.8],[-0.1,-2.2],[0.1,-3],[0.15,-2.35],[0.35,-2.2],[0.5,-2.7],[0.65,-2],[0.8,-2.5],[0.85,-3.2],[-0.4,-3.3],[-0.1,-3.7],[0.3,-3.3],[-1.1,-3.2],[-2.1,-1.2],[-1.9,0.3],[-3.5,2.7],[-2.8,3.4],[-2.3,4.2],[-1.3,3.3],[-1.2,4.6],[-0.4,3.6],[0.2,4.6],[0.8,3.1],[1.3,3.6],[1.8,4.9],[2.5,3],[3,2.6],[3.4,3.3],[-4.4,2.2],[-3.7,1.9],[-2,2.4],[-1.5,3.6],[1.9,2.8],[2.4,1.5],[3.5,1.5],[4.4,1.8],[-2.5,0.7],[-3.1,1],[-4.5,1.1],[-6.2,1],[5.6,0.6],[-2.3,-0.9],[-3.1,-1.3],[-4.1,-1.1],[-5.3,-1.7],[1.9,-1.5],[2.4,-0.4],[3.2,-1.4],[4.1,-1.4],[5.4,-1.9],[-3.4,-2.5],[-2.3,-2.8],[-1.5,-2.7],[-1.2,-2.2],[1.4,-2.3],[1.9,-3.1],[2.9,-2.9],[3.4,-2.2],[-2.2,-3.4],[-1.3,-3.8],[-0.9,-4.8],[0,-5],[0.9,-4.6],[1.3,-3.9],[2.9,-3.8],[-2.6,-4.7],[-1.5,-5.2],[0.4,-5.6],[1,-5.7]];
const didymoonDensity=[[-10.9,0],[-10.7,0.01],[-10.5,-0.02],[-10.3,0],[-10.1,0.02],[-9.9,0],[-9.7,0],[-9.5,0.01],[-9.3,-0.03],[-9.1,0],[-8.9,0],[-8.7,-0.01],[-8.5,0.02],[-8.3,0],[-8.1,0],[-7.9,0.01],[-7.7,-0.02],[-7.5,0],[-7.3,0.02],[-7.1,0],[-6.9,0],[-6.7,-0.01],[-6.5,0.01],[-6.3,0],[-6.1,-0.02],[-5.9,0.01],[-5.7,0],[-5.5,0],[-5.3,0.02],[-5.1,0],[-4.9,0],[-4.7,0.01],[-4.5,-0.02],[-4.3,0],[-4.1,0],[-3.9,0.01],[-3.7,0.02],[-3.5,0],[-3.3,0],[-3.1,-0.01],[-2.9,-0.01],[-2.7,0],[-2.5,0.01],[-2.3,0],[-2.1,0],[-1.9,0.01],[-1.7,-0.02],[-1.5,0],[-1.3,0.02],[-1.1,0],[-0.9,0],[-0.7,-0.01],[-0.5,0.01],[-0.3,0],[-0.1,0],[0.1,0.01],[0.3,-0.02],[0.5,0],[0.7,0.01],[0.9,0],[1.1,0],[1.3,-0.01],[1.5,0.02],[1.7,0],[1.9,-0.01],[2.1,0],[2.3,0],[2.5,0.01],[2.7,0.02],[2.9,0],[3.1,0],[3.3,-0.01],[3.5,-0.02],[3.7,0],[3.9,0.01],[4.1,0],[4.3,0],[4.5,0.01],[4.7,-0.02],[4.9,0],[5.1,0.02],[5.3,0],[5.5,0],[5.7,-0.01],[5.9,-0.01],[6.1,0],[6.3,0.01],[6.5,0],[6.7,0],[6.9,0.01],[7.1,-0.02],[7.3,0],[7.5,0.02],[7.7,0],[7.9,0],[8.1,-0.01],[8.3,-0.01],[8.5,0],[8.7,0.02],[8.9,0],[9.1,0],[9.3,0.01],[9.5,-0.02],[9.7,0],[9.9,0.01],[10.1,0],[10.2,0]];

const ink='#262626';
const fontFamily='"Liberation Sans",Arial,sans-serif';
const vGrid={show:true,lineStyle:{color:'#d2d2d2',width:1.3,type:'solid'}};
const hGrid={show:true,lineStyle:{color:'#c6c6c6',width:1.2,type:'solid'}};
function xAxis(position,labels,name){return {type:'value',position,min:xLimits[0],max:xLimits[1],interval:10,
  axisLine:{show:true,onZero:false,lineStyle:{color:ink,width:1.5}},
  axisTick:{show:true,inside:true,length:7,lineStyle:{color:ink,width:1}},
  minorTick:{show:true,splitNumber:10,length:5,lineStyle:{color:ink,width:1}},
  splitLine:labels?vGrid:{show:false},minorSplitLine:labels?vGrid:{show:false},
  axisLabel:{show:labels,color:ink,fontSize:17,fontFamily,margin:9},
  name:name||'',nameLocation:'middle',nameGap:38,nameMoveOverlap:false,
  nameTextStyle:{color:ink,fontSize:19.5,fontFamily,rich:{sup:{fontSize:12,fontFamily,color:ink,padding:[0,0,10,0]}}}};}
function yAxis(position,labels,name){return {type:'value',position,min:yLimits[0],max:yLimits[1],interval:5,
  axisLine:{show:true,onZero:false,lineStyle:{color:ink,width:1.5}},
  axisTick:{show:true,inside:true,length:7,lineStyle:{color:ink,width:1}},
  minorTick:{show:true,splitNumber:5,length:5,lineStyle:{color:ink,width:1}},
  splitLine:labels?hGrid:{show:false},minorSplitLine:labels?hGrid:{show:false},
  axisLabel:{show:labels,color:ink,fontSize:17,fontFamily,margin:7},
  name:name||'',nameLocation:'middle',nameGap:33,nameRotate:90,nameMoveOverlap:false,
  nameTextStyle:{color:ink,fontSize:19.5,fontFamily,rich:{sup:{fontSize:12,fontFamily,color:ink,padding:[0,0,10,0]}}}};}
function scatter(i,data,symbol,size,color,hollow,bw,z){return {type:'scatter',name:legendNames[i],data,symbol,symbolSize:size,
  silent:true,animation:false,z,clip:true,
  itemStyle:hollow?{color:'rgba(0,0,0,0)',borderColor:color,borderWidth:bw,opacity:1}:{color,opacity:1}};}
const legendRows=[
 {top:429.3,w:8,h:8,icon:'circle'},{top:446.7,w:6.5,h:6.5,icon:'rect'},{top:464.3,w:7,h:10,icon:'diamond'},
 {top:481.7,w:2.5,h:2.5,icon:'circle'},{top:499.3,w:2.5,h:2.5,icon:'circle'}];
const legendCx=526.7,textX=551.7;
const chart=echarts.init(document.getElementById('c'),null,{renderer:'canvas'});
chart.setOption({
 animation:false,backgroundColor:'#fff',
 grid:{left:65,right:19,top:10,bottom:63,containLabel:false,outerBoundsMode:'none'},
 xAxis:[xAxis('bottom',true,'Longitude [{sup|o}]'),xAxis('top',false)],
 yAxis:[yAxis('left',true,'Latitude [{sup|o}]'),yAxis('right',false)],
 legend:legendRows.map((r,i)=>({data:[legendNames[i]],selectedMode:false,orient:'vertical',padding:0,
   left:legendCx-r.w/2,top:r.top-8,itemWidth:r.w,itemHeight:r.h,icon:r.icon,z:6,
   textStyle:{color:ink,fontSize:13.7,fontFamily,lineHeight:16,height:16,padding:[0,0,0,textX-(legendCx-r.w/2)-r.w-6]}})),
 graphic:[{type:'rect',z:5,shape:{x:497.5,y:418,width:333,height:91},style:{fill:'#fff',stroke:ink,lineWidth:2}}],
 series:[
  scatter(0,velocityOnly,'circle',8.2,'#0000ff',true,1.7,2.1),
  scatter(1,springVelOnly,'rect',6.8,'#00ff00',true,1.7,2.2),
  scatter(2,gncOnly,'diamond',10.5,'#00ffff',true,1.6,2),
  scatter(3,positionOnly,'circle',3.4,'#ff00ff',false,0,2.3),
  scatter(4,didymoonDensity,'circle',3.6,'#ff0000',false,0,2.4)
 ]
});
</script></body></html>
